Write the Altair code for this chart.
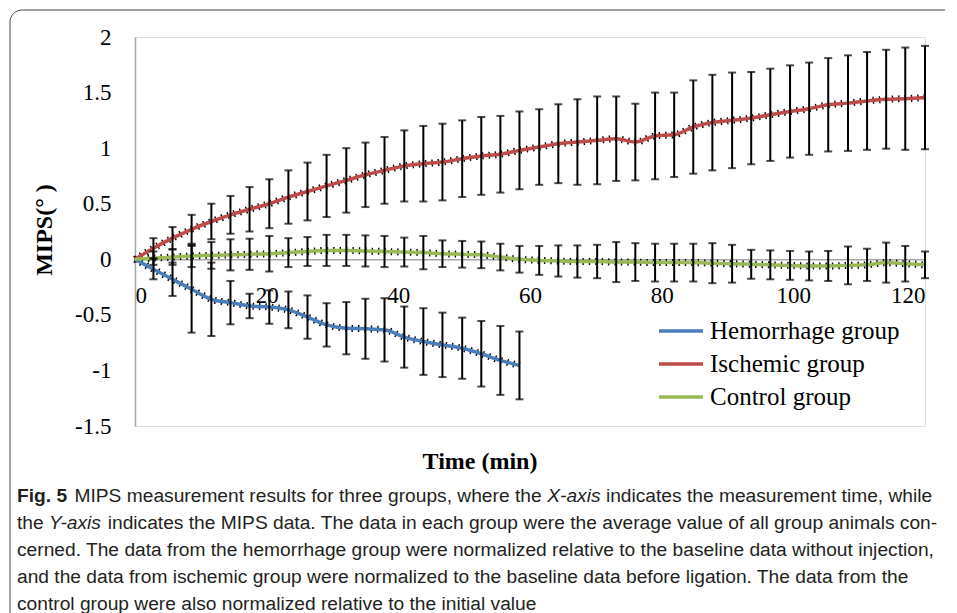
import altair as alt
import pandas as pd

# ---- data -------------------------------------------------------------
series_names = ["Hemorrhage group", "Ischemic group", "Control group"]
series_colors = ["#4a7ebb", "#be4b48", "#98b954"]

times = [2.8, 5.7, 8.6, 11.6, 14.5, 17.4, 20.4, 23.3, 26.2, 29.1, 32.1,
         35.0, 37.9, 40.9, 43.8, 46.7, 49.7, 52.6, 55.5, 58.4, 61.4, 64.3,
         67.2, 70.2, 73.1, 76.0, 79.0, 81.9, 84.8, 87.7, 90.7, 93.6, 96.5,
         99.5, 102.4, 105.3, 108.3, 111.2, 114.1, 117.0, 120.0]

ischemic_mean = [0.10, 0.19, 0.27, 0.34, 0.40, 0.45, 0.50, 0.56, 0.61, 0.66,
                 0.71, 0.76, 0.80, 0.84, 0.86, 0.875, 0.905, 0.93, 0.945, 0.98,
                 1.01, 1.04, 1.055, 1.07, 1.085, 1.055, 1.11, 1.12, 1.19, 1.23,
                 1.25, 1.27, 1.30, 1.33, 1.355, 1.39, 1.405, 1.425, 1.44, 1.445,
                 1.455]
ischemic_sd = [0.09, 0.10, 0.13, 0.16, 0.17, 0.20, 0.22, 0.24, 0.26, 0.28,
               0.29, 0.29, 0.30, 0.32, 0.34, 0.345, 0.345, 0.35, 0.345, 0.35,
               0.34, 0.355, 0.385, 0.395, 0.38, 0.345, 0.39, 0.38, 0.42, 0.43,
               0.43, 0.415, 0.415, 0.415, 0.415, 0.42, 0.43, 0.44, 0.445, 0.46,
               0.465]

control_mean = [0.01, 0.02, 0.03, 0.035, 0.04, 0.045, 0.05, 0.06, 0.07, 0.08,
                0.08, 0.075, 0.07, 0.065, 0.06, 0.05, 0.045, 0.04, 0.02, 0.0,
                -0.01, -0.015, -0.02, -0.02, -0.025, -0.025, -0.03, -0.03, -0.03,
                -0.035, -0.04, -0.045, -0.05, -0.055, -0.06, -0.06, -0.055,
                -0.05, -0.03, -0.04, -0.05]
control_sd = [0.06, 0.07, 0.10, 0.12, 0.14, 0.14, 0.16, 0.13, 0.13, 0.14,
              0.14, 0.14, 0.14, 0.13, 0.15, 0.12, 0.12, 0.12, 0.12, 0.12,
              0.13, 0.14, 0.145, 0.15, 0.18, 0.17, 0.17, 0.17, 0.17, 0.18,
              0.17, 0.13, 0.13, 0.13, 0.13, 0.135, 0.17, 0.145, 0.18, 0.16,
              0.12]

hemorrhage_mean = [-0.09, -0.18, -0.27, -0.36, -0.39, -0.42, -0.43, -0.455,
                   -0.52, -0.59, -0.62, -0.625, -0.635, -0.70, -0.74, -0.77,
                   -0.80, -0.85, -0.91, -0.955]
hemorrhage_sd = [0.09, 0.15, 0.39, 0.33, 0.195, 0.11, 0.15, 0.165, 0.195,
                 0.195, 0.235, 0.27, 0.285, 0.275, 0.30, 0.29, 0.275, 0.295,
                 0.31, 0.305]

x_ticks = [0, 20, 40, 60, 80, 100, 120]
y_ticks = [-1.5, -1, -0.5, 0, 0.5, 1, 1.5, 2]

# caption: list of lines, each a list of (text, style) segments
caption = [
    [("Fig. 5", "bold"),
     ("MIPS measurement results for three groups, where the", "normal"),
     ("X-axis", "italic"),
     ("indicates the measurement time, while", "normal")],
    [("the", "normal"), ("Y-axis", "italic"),
     ("indicates the MIPS data. The data in each group were the average value "
      "of all group animals con-", "normal")],
    [("cerned. The data from the hemorrhage group were normalized relative to "
      "the baseline data without injection,", "normal")],
    [("and the data from ischemic group were normalized to the baseline data "
      "before ligation. The data from the", "normal")],
    [("control group were also normalized relative to the initial value",
      "normal")],
]

# ---- tables -----------------------------------------------------------
line_rows, bar_rows = [], []
for name, means, sds in [(series_names[0], hemorrhage_mean, hemorrhage_sd),
                         (series_names[1], ischemic_mean, ischemic_sd),
                         (series_names[2], control_mean, control_sd)]:
    line_rows.append({"series": name, "t": 0.0, "mean": 0.0})
    for t, m, s in zip(times, means, sds):
        line_rows.append({"series": name, "t": t, "mean": m})
        bar_rows.append({"series": name, "t": t, "lo": m - s, "hi": m + s})
lines_df = pd.DataFrame(line_rows)
bars_df = pd.DataFrame(bar_rows)

W, H = 790, 389
SERIF = "Liberation Serif"
SANS = "Liberation Sans"

y0_px = H * (2 - 0) / 3.5

x_axis = alt.Axis(values=x_ticks, title=None, offset=-(H - y0_px), ticks=False,
                  tickSize=0, labelPadding=25, labelExpr="'' + datum.value",
                  grid=False, domainColor="#a6a6a6", domainWidth=1.5,
                  labelFont=SERIF, labelFontSize=23, labelColor="black")
y_axis = alt.Axis(values=y_ticks, title=None, ticks=False, tickSize=0,
                  labelPadding=24, labelExpr="'' + datum.value", grid=False,
                  domainColor="#a6a6a6", domainWidth=1.5, labelFont=SERIF,
                  labelFontSize=23, labelColor="black")
x_scale = alt.Scale(domain=[0, 120], nice=False, zero=False)
y_scale = alt.Scale(domain=[-1.5, 2], nice=False, zero=False)

X = alt.X("t:Q", scale=x_scale, axis=x_axis)

ticks_layer = alt.Chart(lines_df).mark_line(
    color="black", strokeWidth=7, strokeDash=[1.4, 5.0], interpolate="monotone"
).encode(x=X, y=alt.Y("mean:Q", scale=y_scale, axis=y_axis), detail="series:N")

line_layer = alt.Chart(lines_df).mark_line(
    strokeWidth=3.5, interpolate="monotone"
).encode(
    x=X,
    y=alt.Y("mean:Q", scale=y_scale, axis=y_axis),
    color=alt.Color("series:N",
                    scale=alt.Scale(domain=series_names, range=series_colors),
                    legend=alt.Legend(title=None, orient="none", legendX=533,
                                      legendY=281, symbolType="M-2,0H2",
                                      symbolSize=484, symbolStrokeWidth=3.5,
                                      labelFont=SERIF, labelFontSize=25,
                                      labelColor="black", rowPadding=7,
                                      labelOffset=16, padding=0,
                                      labelLimit=400)),
)

bar_layer = alt.Chart(bars_df).mark_errorbar(
    color="black", ticks={"size": 8, "thickness": 2, "color": "black"},
    rule={"strokeWidth": 2, "color": "black"}
).encode(
    x=X,
    y=alt.Y("lo:Q", scale=y_scale, axis=y_axis, title=None),
    y2="hi:Q",
)

one = alt.Data(values=[{}])


def txt(text, x, y, **kw):
    return alt.Chart(one).mark_text(text=text, **kw).encode(
        x=alt.value(x), y=alt.value(y))


# Arial / Liberation Sans advance widths (per 1000 em), for laying out the
# mixed-style caption segments
_AW = {" ": 278, ",": 278, "-": 333, ".": 278, "5": 556,
       "A": 667, "F": 611, "I": 278, "M": 833, "P": 667, "S": 667, "T": 611,
       "X": 667, "Y": 667,
       "a": 556, "b": 556, "c": 500, "d": 556, "e": 556, "f": 278, "g": 556,
       "h": 556, "i": 222, "j": 222, "k": 500, "l": 222, "m": 833, "n": 556,
       "o": 556, "p": 556, "q": 556, "r": 333, "s": 500, "t": 278, "u": 556,
       "v": 500, "w": 722, "x": 500, "y": 500, "z": 500}
_BW = {"F": 611, "i": 278, "g": 611, ".": 278, " ": 278, "5": 556}


def text_w(s, style, size):
    table = _BW if style == "bold" else _AW
    return sum(table.get(c, 556) for c in s) * size / 1000.0


CAP_SIZE = 19.2
ox, oy = 135, 37  # plot origin on the page
cap_x0, cap_y0, cap_lh = 17, 495.5, 27.1

decor = [
    txt("MIPS(° )", 45 - ox, 230 - oy, font=SERIF, fontSize=24,
        fontWeight="bold", angle=270, align="center", baseline="middle",
        color="black"),
    txt("Time (min)", 480 - ox, 462 - oy, font=SERIF, fontSize=24,
        fontWeight="bold", align="center", baseline="middle", color="black"),
]
for li, segs in enumerate(caption):
    xpos = cap_x0
    ypos = cap_y0 + li * cap_lh
    for si, (s, style) in enumerate(segs):
        kw = dict(font=SANS, fontSize=CAP_SIZE, color="#231f20",
                  align="left", baseline="middle")
        if style == "bold":
            kw["fontWeight"] = "bold"
        if style == "italic":
            kw["fontStyle"] = "italic"
        decor.append(txt(s, xpos - ox, ypos - oy, **kw))
        gap = 2.0 if style == "bold" else 0.0
        xpos += text_w(s, style, CAP_SIZE) + text_w(" ", "normal", CAP_SIZE) + gap

frame = alt.Chart(one).mark_rect(
    fill=None, stroke="#444444", strokeWidth=1, cornerRadius=12
).encode(x=alt.value(10 - ox), x2=alt.value(1100), y=alt.value(10 - oy),
         y2=alt.value(900))

chart = alt.layer(frame, ticks_layer, line_layer, bar_layer, *decor).properties(
    width=W, height=H,
    autosize=alt.AutoSizeParams(type="none"),
    padding={"left": ox - 8, "top": oy - 8, "right": 20, "bottom": 188},
).configure_view(stroke=None).configure(background="white")

chart.save("out.html", embed_options={"renderer": "svg", "actions": False})
